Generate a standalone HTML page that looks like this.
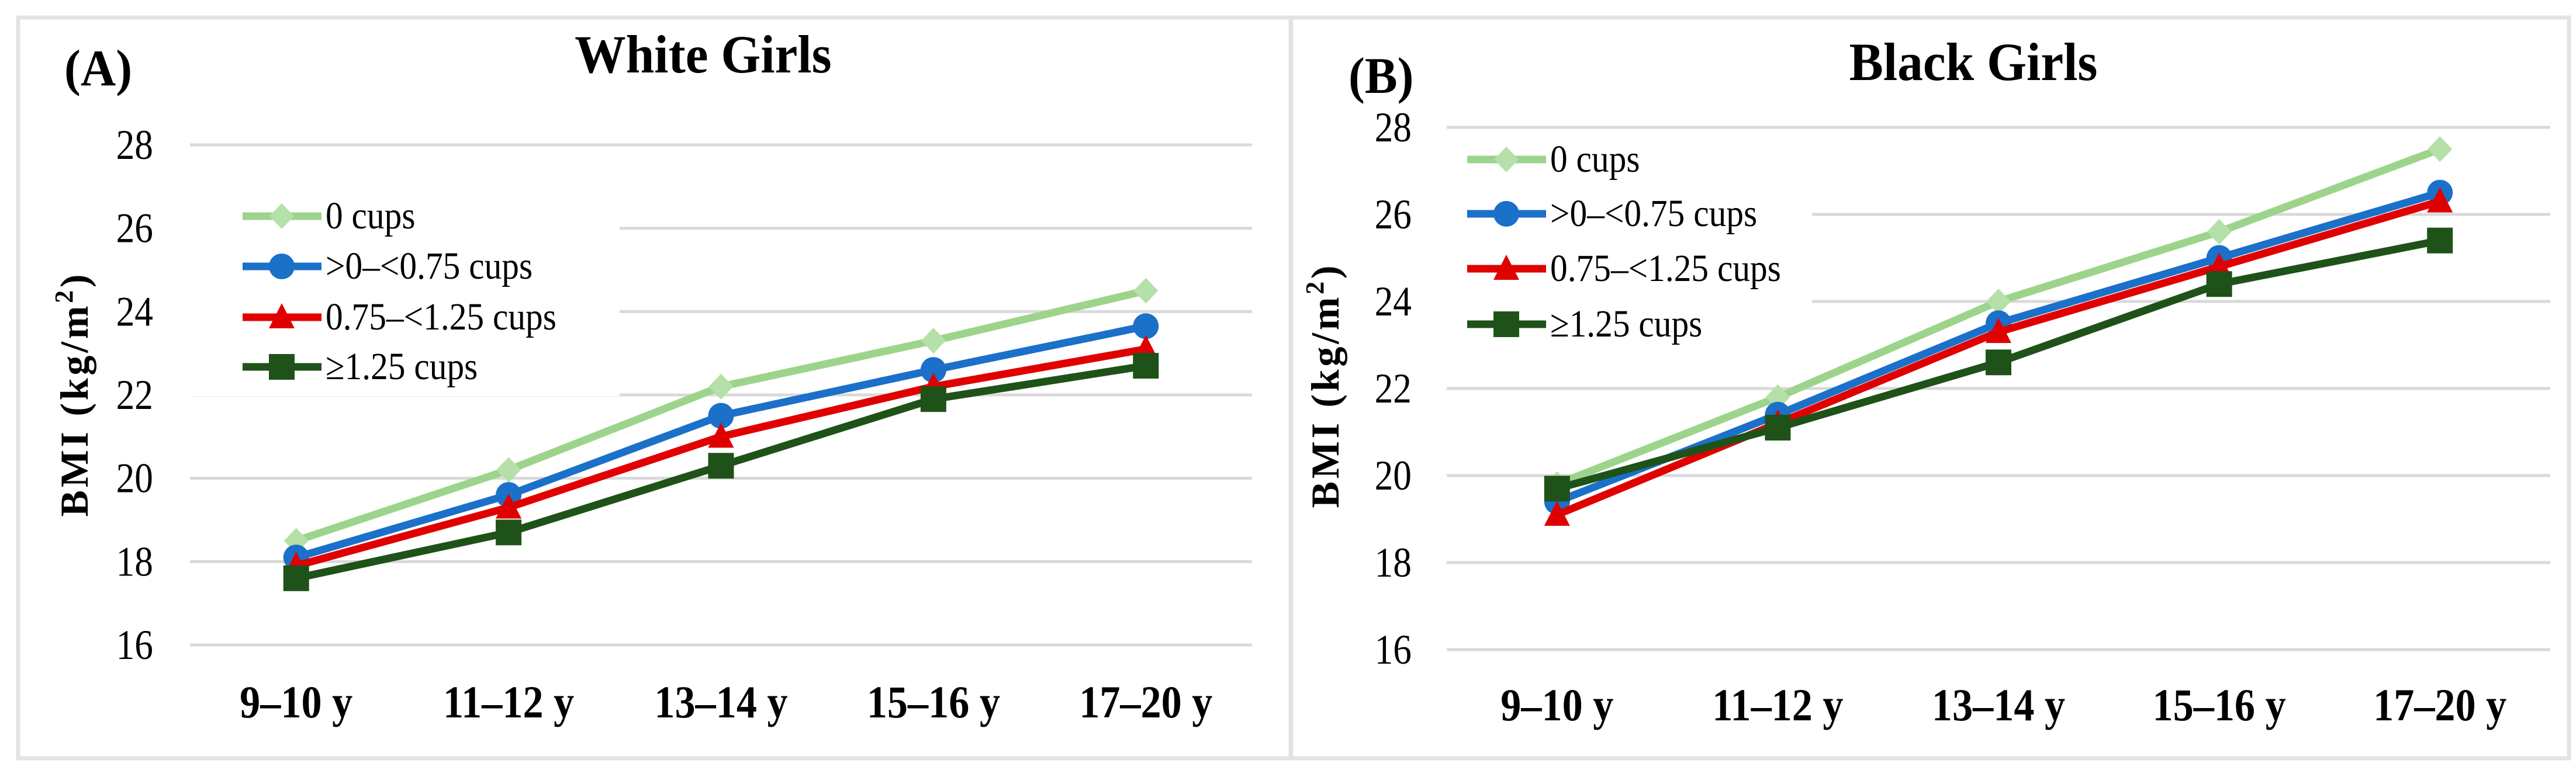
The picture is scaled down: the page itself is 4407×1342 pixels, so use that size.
<!DOCTYPE html>
<html><head><meta charset="utf-8"><style>
html,body{margin:0;padding:0;background:#fff}
svg{display:block}
svg text{font-family:"Liberation Serif","Times New Roman","DejaVu Serif",serif;fill:#000}
</style></head><body>
<svg id="c" width="4407" height="1342" viewBox="0 0 4407 1342" xmlns="http://www.w3.org/2000/svg" font-family="'Liberation Serif', 'DejaVu Serif', serif">
<rect x="0" y="0" width="4407" height="1342" fill="#fff"/>
</svg>
<script>
const categories = ["9–10 y","11–12 y","13–14 y","15–16 y","17–20 y"];
const seriesNames = ["0 cups","\u003e0–\u003c0.75  cups","0.75–\u003c1.25  cups","\u22651.25 cups"];
const yTicks = [16,18,20,22,24,26,28];
const whiteZero = [18.5,20.2,22.2,23.3,24.5];
const whiteLow = [18.1,19.6,21.5,22.6,23.65];
const whiteMid = [17.9,19.3,21.0,22.2,23.1];
const whiteHigh = [17.6,18.7,20.3,21.9,22.7];
const blackZero = [19.8,21.8,24.0,25.6,27.5];
const blackLow = [19.4,21.4,23.5,25.0,26.5];
const blackMid = [19.1,21.2,23.3,24.8,26.3];
const blackHigh = [19.7,21.1,22.6,24.4,25.4];

const NS="http://www.w3.org/2000/svg";
const svg=document.getElementById('c');
const FF="'Liberation Serif', 'DejaVu Serif', serif";
function mk(tag,attrs,parent){const e=document.createElementNS(NS,tag);for(const k in attrs)e.setAttribute(k,attrs[k]);(parent||svg).appendChild(e);return e;}
function txt(str,attrs,sx,parent){attrs["font-family"]=FF;const t=mk('text',attrs,parent);t.textContent=str;if(sx){const L=t.getComputedTextLength();t.setAttribute('textLength',L*sx);t.setAttribute('lengthAdjust','spacingAndGlyphs');}return t;}

const colors=["#9dd48c","#1b70c9","#e00000","#1f5219"];
const fills=["#b6e0a9","#1b70c9","#e00000","#1f5219"];
const markers=["diamond","circle","triangle","square"];

function marker(g,type,x,y,i){
  let m;
  if(type==="diamond") m=mk('polygon',{points:`${x},${y-22} ${x+21},${y} ${x},${y+22} ${x-21},${y}`,fill:fills[i]},g);
  else if(type==="circle") m=mk('circle',{cx:x,cy:y,r:22,fill:fills[i]},g);
  else if(type==="triangle") m=mk('polygon',{points:`${x},${y-24} ${x+22},${y+19} ${x-22},${y+19}`,fill:fills[i]},g);
  else m=mk('rect',{x:x-22,y:y-22,width:44,height:44,fill:fills[i]},g);
  
  
}

function panel(cfg){
  const g=mk('g',{});
  
  
  const fr=mk('rect',{x:cfg.bx,y:30,width:cfg.bw,height:1268,fill:"none",stroke:"#e3e3e3","stroke-width":7},g);
  
  
  const y=v=>cfg.y16+(v-16)*(cfg.y28-cfg.y16)/12;
  const bw=(cfg.x1-cfg.x0)/categories.length;
  const x=i=>cfg.x0+bw*(i+0.5);
  yTicks.forEach(v=>{
    const l=mk('line',{x1:cfg.x0,x2:cfg.x1,y1:y(v),y2:y(v),stroke:"#d9d9d9","stroke-width":5},g);
    
    
    const t=txt(String(v),{x:cfg.tickX,y:y(v)+24,"font-size":72,"text-anchor":"end"},0.88,g);
    
    
  });
  const lb=mk('rect',{x:cfg.x0,y:cfg.legY[0]-50,width:cfg.legW,height:cfg.legY[3]-cfg.legY[0]+100,fill:"#fff"},g);
  
  
  categories.forEach((c,i)=>{
    const t=txt(c,{x:x(i),y:cfg.xlabY,"font-size":78,"font-weight":"bold","text-anchor":"middle"},0.9,g);
    
    
  });
  cfg.data.forEach((arr,si)=>{
    const pts=arr.map((v,i)=>`${x(i)},${y(v)}`).join(' ');
    const pl=mk('polyline',{points:pts,fill:"none",stroke:colors[si],"stroke-width":13,"stroke-linejoin":"round"},g);
    
    
    arr.forEach((v,i)=>marker(g,markers[si],x(i),y(v),si));
  });
  seriesNames.forEach((n,si)=>{
    const ly=cfg.legY[si];
    const ll=mk('line',{x1:cfg.legX,x2:cfg.legX+135,y1:ly,y2:ly,stroke:colors[si],"stroke-width":13},g);
    
    
    marker(g,markers[si],cfg.legX+67,ly,si);
    const t=txt(n,{x:cfg.legX+142,y:ly+21,"font-size":66},0.9,g);
    
    
  });
  const ti=txt(cfg.title,{x:cfg.titleX,y:cfg.titleY,"font-size":92,"font-weight":"bold","text-anchor":"middle"},0.95,g);
  
  
  const lab=txt(cfg.label,{x:cfg.labX,y:cfg.titleY+22,"font-size":88,"font-weight":"bold"},0.95,g);
  
  
  const yt=mk('text',{x:0,y:0,"font-family":FF,"font-size":68,"font-weight":"bold","text-anchor":"middle",transform:`translate(${cfg.ytX},${cfg.ytY}) rotate(-90)`,textLength:415,lengthAdjust:"spacing"},g);
  
  
  yt.appendChild(document.createTextNode('BMI (kg/m'));
  const sup=mk('tspan',{"font-size":44,dy:-26},yt);sup.textContent='2';
  const cl=mk('tspan',{dy:26},yt);cl.textContent=')';
}

panel({name:"panel-white-girls",bx:31,bw:2177,x0:325,x1:2142,y16:1104,y28:248,tickX:262,
  legX:415,legY:[370,456,543,628],legW:735,xlabY:1228,title:"White Girls",titleX:1203,titleY:124,label:"(A)",labX:110,
  ytX:150,ytY:677,data:[whiteZero,whiteLow,whiteMid,whiteHigh]});
panel({name:"panel-black-girls",bx:2209,bw:2186,x0:2475,x1:4363,y16:1112,y28:218,tickX:2415,
  legX:2510,legY:[273,366,460,555],legW:625,xlabY:1233,title:"Black Girls",titleX:3376,titleY:137,label:"(B)",labX:2307,
  ytX:2290,ytY:662,data:[blackZero,blackLow,blackMid,blackHigh]});
</script>
</body></html>
